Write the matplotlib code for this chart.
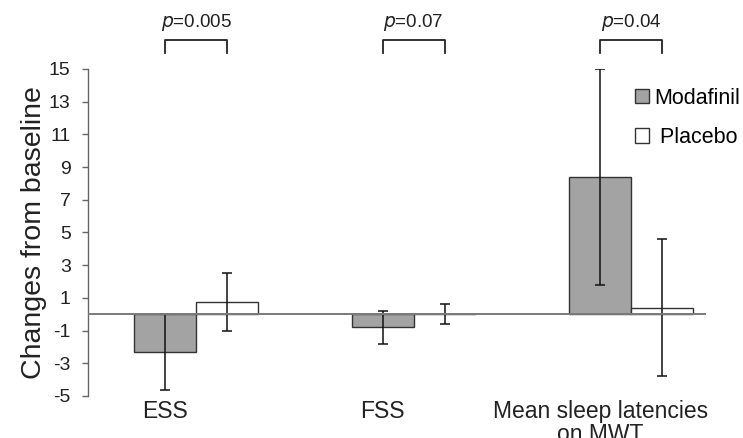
import matplotlib.pyplot as plt
import numpy as np

plt.rcParams['font.family'] = ['Liberation Sans', 'DejaVu Sans']
plt.rcParams['axes.unicode_minus'] = False

# Data
categories = ["ESS", "FSS", "Mean sleep latencies\non MWT"]
modafinil = [-2.33, -0.8, 8.4]
modafinil_err = [2.33, 1.0, 6.6]
placebo = [0.75, 0.0, 0.4]
placebo_err = [1.8, 0.6, 4.2]
p_values = ["0.005", "0.07", "0.04"]

x = np.arange(len(categories))
width = 0.285

fig = plt.figure(figsize=(7.43, 4.38), dpi=100)
ax = fig.add_axes([0.1184, 0.0959, 0.832, 0.7466])

ax.bar(x - width/2, modafinil, width, color="#a3a3a3", edgecolor="#333333",
       linewidth=1.0, label="Modafinil", zorder=2)
ax.bar(x + width/2, placebo, width, color="white", edgecolor="#333333",
       linewidth=1.0, label=" Placebo", zorder=2)
ax.errorbar(x - width/2, modafinil, yerr=modafinil_err, fmt="none",
            ecolor="#111111", elinewidth=1.1, capsize=3.6, capthick=1.1, zorder=3)
ax.errorbar(x + width/2, placebo, yerr=placebo_err, fmt="none",
            ecolor="#111111", elinewidth=1.1, capsize=3.6, capthick=1.1, zorder=3)

ax.axhline(0, color="#7a7a7a", linewidth=1.4, zorder=4)

# significance brackets
for xi, p in zip(x, p_values):
    x0, x1 = xi - width/2, xi + width/2
    ax.plot([x0, x0, x1, x1], [15.95, 16.75, 16.75, 15.95], color="#222222",
            linewidth=1.3, clip_on=False)
    ax.text(xi, 17.2, f"$\\it{{p}}$={p}", ha="center", va="bottom", fontsize=13.5,
            color="#222222")

ax.set_xlim(-0.497, 2.345)
ax.set_ylim(-5, 15)
ax.set_yticks(np.arange(-5, 16, 2))
ax.set_xticks(x - width/2)
ax.set_xticklabels(categories, fontsize=16.5, color="#222222", linespacing=1.0)
ax.tick_params(axis="x", length=0, pad=3)
ax.tick_params(axis="y", labelsize=14, length=4.5, width=1, color="#666666",
               labelcolor="#222222", pad=8)
ax.set_ylabel("Changes from baseline", fontsize=20.5, color="#222222", labelpad=1)

for side in ["top", "right", "bottom"]:
    ax.spines[side].set_visible(False)
ax.spines["left"].set_color("#666666")
ax.spines["left"].set_linewidth(1.0)

ax.legend(loc="upper left", bbox_to_anchor=(0.8546, 0.80),
          bbox_transform=fig.transFigure, frameon=False,
          fontsize=15.5, handlelength=0.65, handleheight=0.65, handletextpad=0.25,
          labelspacing=0.85, borderaxespad=0, borderpad=0)

fig.savefig("out.png", dpi=100)
